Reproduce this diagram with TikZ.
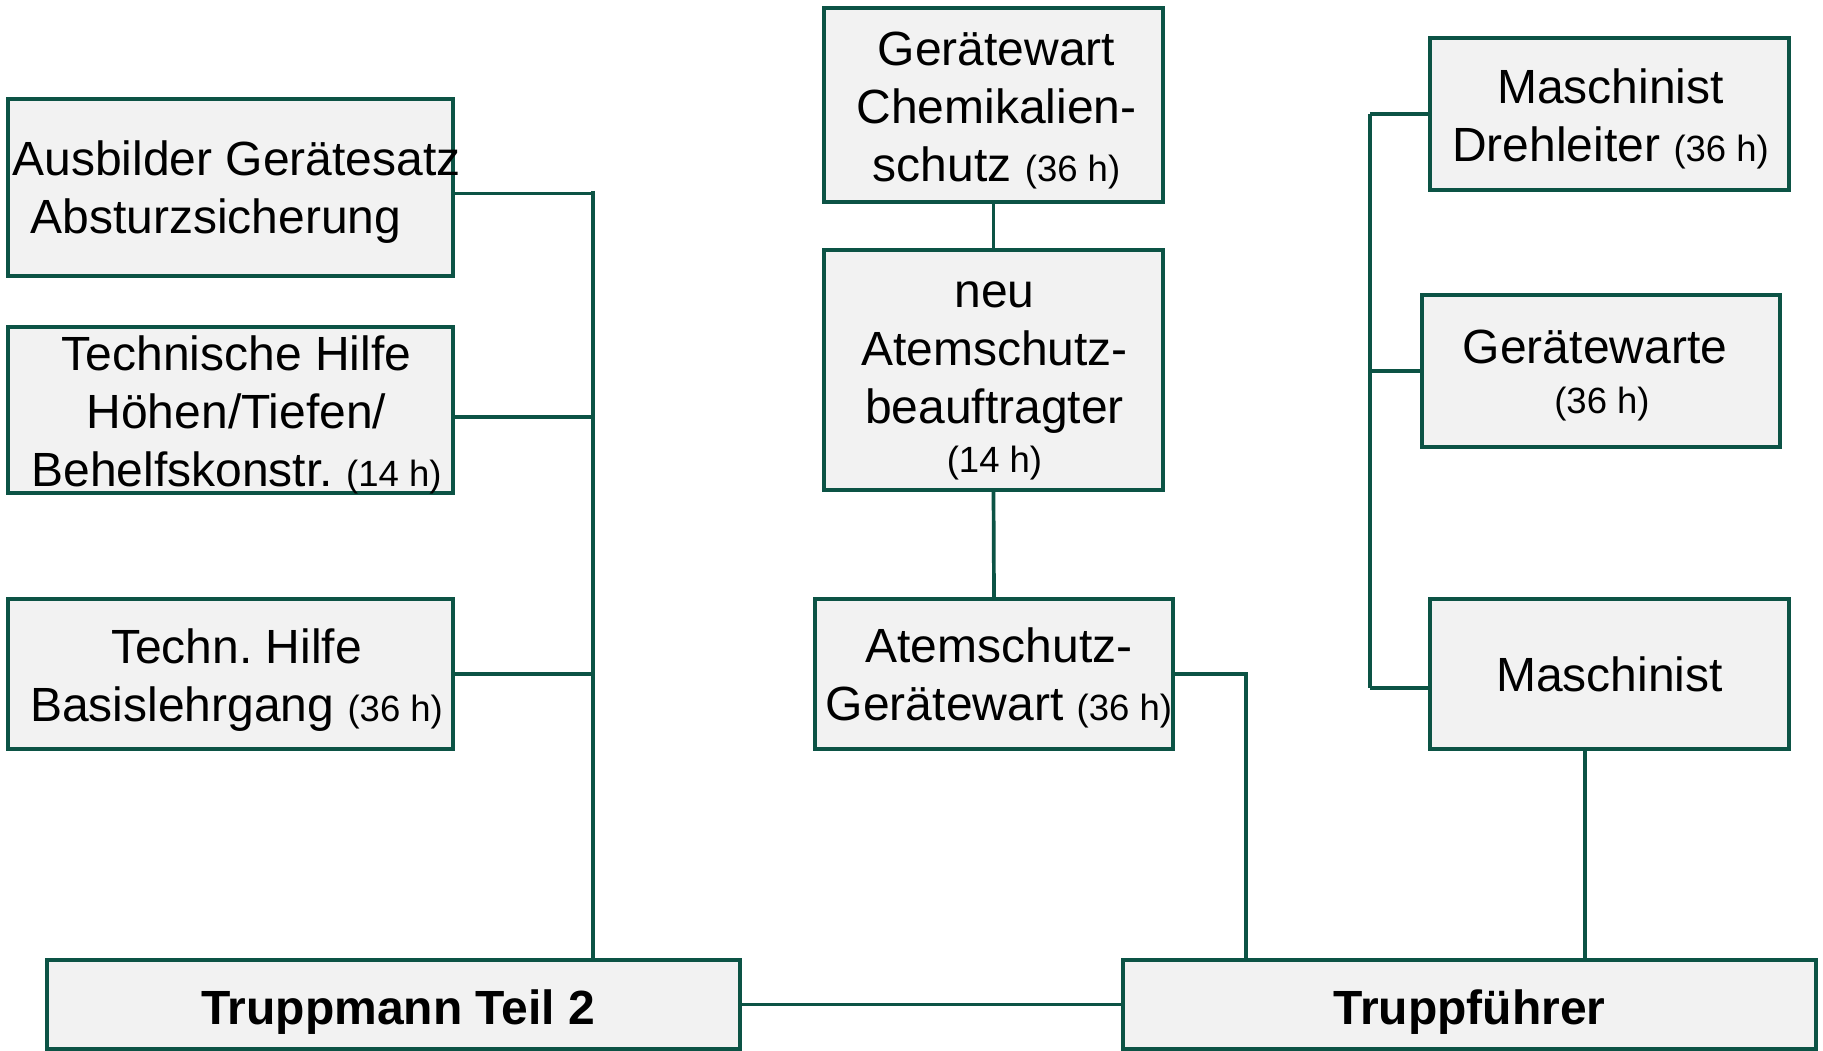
\documentclass[tikz,border=0pt]{standalone}
\usepackage{fontspec}
\setmainfont{Liberation Sans}
\frenchspacing
\definecolor{lc}{RGB}{12,83,69}
\definecolor{bf}{RGB}{242,242,242}
\newcommand{\mf}{\fontsize{48}{58}\selectfont}
\newcommand{\sm}{\fontsize{36.5}{43}\selectfont}
\begin{document}
\begin{tikzpicture}[x=1pt,y=-1pt,
  box/.style={draw=lc,fill=bf,line width=4pt,inner sep=0pt},
  txt/.style={inner sep=0pt,align=center,font=\mf},
  conn/.style={draw=lc,line width=3.7pt}]
\useasboundingbox (0,0) rectangle (1823,1051);
% left column
\node[box,minimum width=445pt,minimum height=177pt] (A) at (230.5,187.5) {};
\node[txt,align=left] (At) at ([xshift=6pt,yshift=-5pt]A.center) {Ausbilder Gerätesatz\\\hspace*{18pt}Absturzsicherung};
\node[box,minimum width=445pt,minimum height=166pt] (B) at (230.5,410) {};
\node[txt] (Bt) at ([xshift=6pt,yshift=-5pt]B.center) {Technische Hilfe\\Höhen/Tiefen/\\Behelfskonstr. {\sm (14 h)}};
\node[box,minimum width=445pt,minimum height=150pt] (C) at (230.5,674) {};
\node[txt] (Ct) at ([xshift=6pt,yshift=-6pt]C.center) {Techn. Hilfe\\Basislehrgang {\sm (36 h)}};
\node[box,minimum width=693pt,minimum height=89pt] (TM) at (393,1004.5) {};
\node[txt,font=\mf\bfseries] (TMt) at ([xshift=5pt,yshift=-8pt]TM.center) {Truppmann Teil 2};
% middle column
\node[box,minimum width=339pt,minimum height=194pt] (G1) at (993.5,105) {};
\node[txt] (G1t) at ([xshift=3pt,yshift=-6pt]G1.center) {Gerätewart\\Chemikalien-\\schutz {\sm (36 h)}};
\node[box,minimum width=339pt,minimum height=240pt] (G2) at (993.5,370) {};
\node[txt] (G2t) at ([xshift=1pt,yshift=-11pt]G2.center) {neu\\Atemschutz-\\beauftragter\\[-9pt]{\sm (14 h)}};
\node[box,minimum width=358pt,minimum height=150pt] (G3) at (994,674) {};
\node[txt] (G3t) at ([xshift=5pt,yshift=-4pt]G3.center) {Atemschutz-\\Gerätewart {\sm (36 h)}};
% right column
\node[box,minimum width=359pt,minimum height=152pt] (M1) at (1609.5,114) {};
\node[txt] (M1t) at ([xshift=1pt,yshift=-5pt]M1.center) {Maschinist\\Drehleiter {\sm (36 h)}};
\node[box,minimum width=358pt,minimum height=152pt] (M2) at (1601,371) {};
\node[txt] (M2t) at ([xshift=-6pt,yshift=-5pt]M2.center) {Gerätewarte\\[-8pt]{\sm\hspace*{14pt}(36 h)}};
\node[box,minimum width=359pt,minimum height=150pt] (M3) at (1609.5,674) {};
\node[txt] (M3t) at (M3.center) {Maschinist};
\node[box,minimum width=693pt,minimum height=89pt] (TF) at (1469.5,1004.5) {};
\node[txt,font=\mf\bfseries] (TFt) at ([yshift=-8pt]TF.center) {Truppführer};
% left trunk
\coordinate (lt) at (593,191);
\draw[conn] (lt) -- (lt |- TM.north);
\draw[conn] ([yshift=-6pt]A.east) -- ([yshift=-6pt]A.east -| lt);
\draw[conn] ([yshift=-7pt]B.east) -- ([yshift=-7pt]B.east -| lt);
\draw[conn] (C.east) -- (C.east -| lt);
% middle
\draw[conn] (G1.south) -- (G2.north);
\draw[conn] (G2.south) -- (G3.north);
\draw[conn] (G3.east) -| (1246,0 |- TF.north);
% right trunk
\coordinate (rt) at (1370,114);
\coordinate (rb) at (1370,688);
\draw[conn] (rt) -- (rb);
\draw[conn] (M1.west) -- (rt);
\draw[conn] (M2.west) -- (M2.west -| rt);
\draw[conn] (rb) -- (rb -| M3.west);
\draw[conn] (1585,0 |- M3.south) -- (1585,0 |- TF.north);
% bottom
\draw[conn] (TM.east) -- (TF.west);
\end{tikzpicture}
\end{document}
